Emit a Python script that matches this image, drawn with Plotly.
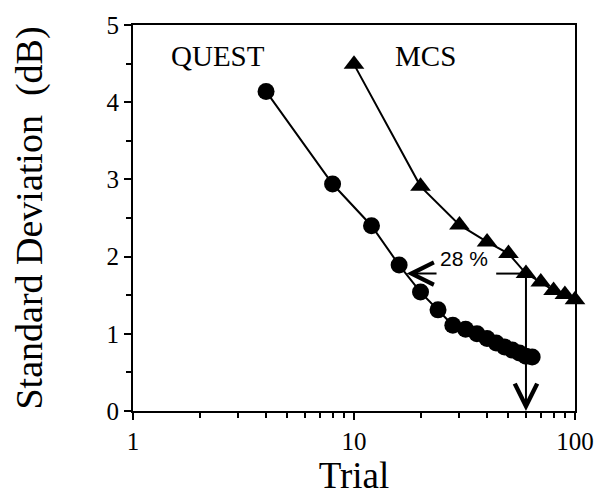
import numpy as np
import plotly.graph_objects as go

quest_trial = [4, 8, 12, 16, 20, 24, 28, 32, 36, 40, 44, 48, 52, 56, 60, 64]
quest_sd = [4.14, 2.94, 2.40, 1.89, 1.54, 1.31, 1.11, 1.06, 1.00, 0.94, 0.88, 0.83, 0.79, 0.75, 0.71, 0.70]
mcs_trial = [10, 20, 30, 40, 50, 60, 70, 80, 90, 100]
mcs_sd = [4.49, 2.91, 2.41, 2.19, 2.04, 1.78, 1.67, 1.56, 1.51, 1.44]

ref_trial = 60
ref_sd = 1.78
quest_equal_trial = 17.3
label_text = "28 %"

serif = "Liberation Serif, Times New Roman, serif"

fig = go.Figure()
fig.add_trace(go.Scatter(x=quest_trial, y=quest_sd, mode="lines+markers",
                         line=dict(color="black", width=2),
                         marker=dict(symbol="circle", size=17, color="black"),
                         cliponaxis=False, showlegend=False))
fig.add_trace(go.Scatter(x=mcs_trial, y=mcs_sd, mode="lines+markers",
                         line=dict(color="black", width=2),
                         marker=dict(symbol="triangle-up", size=18, color="black"),
                         cliponaxis=False, showlegend=False))
# horizontal segment from right portion (44 -> 60)
fig.add_trace(go.Scatter(x=[44, ref_trial], y=[ref_sd, ref_sd], mode="lines",
                         line=dict(color="black", width=2), showlegend=False))

fig.add_annotation(x=np.log10(quest_equal_trial), y=ref_sd, ax=np.log10(24), ay=ref_sd,
                   xref="x", yref="y", axref="x", ayref="y", text="",
                   showarrow=True, arrowhead=5, arrowsize=2.2, arrowwidth=2, arrowcolor="black")
fig.add_annotation(x=np.log10(ref_trial), y=0, ax=np.log10(ref_trial), ay=ref_sd,
                   xref="x", yref="y", axref="x", ayref="y", text="",
                   showarrow=True, arrowhead=5, arrowsize=2.2, arrowwidth=2, arrowcolor="black")
fig.add_annotation(x=np.log10(31.5), y=1.97, text=label_text, showarrow=False,
                   font=dict(family="Liberation Sans, Arial, sans-serif", size=21, color="black"))
fig.add_annotation(x=np.log10(2.43), y=4.6, text="QUEST", showarrow=False,
                   font=dict(family=serif, size=29, color="black"))
fig.add_annotation(x=np.log10(21), y=4.6, text="MCS", showarrow=False,
                   font=dict(family=serif, size=29, color="black"))

fig.update_xaxes(type="log", range=[0, 2], tickvals=[1, 10, 100], ticktext=["1", "10", "100"],
                 ticks="outside", ticklen=7, tickwidth=2, tickcolor="black",
                 minor=dict(tickvals=[2, 3, 4, 5, 6, 7, 8, 9, 20, 30, 40, 50, 60, 70, 80, 90],
                            ticks="outside", ticklen=5, tickwidth=2, tickcolor="black"),
                 showline=True, linecolor="black", linewidth=2, mirror=True,
                 showgrid=False, zeroline=False,
                 tickfont=dict(family=serif, size=25, color="black"),
                 title=dict(text="Trial", font=dict(family=serif, size=37, color="black"), standoff=4))
fig.update_yaxes(range=[0, 5], tickvals=[0, 1, 2, 3, 4, 5],
                 ticks="outside", ticklen=7, tickwidth=2, tickcolor="black",
                 minor=dict(tickvals=[0.5, 1.5, 2.5, 3.5, 4.5], ticks="outside", ticklen=5,
                            tickwidth=2, tickcolor="black"),
                 showline=True, linecolor="black", linewidth=2, mirror=True,
                 showgrid=False, zeroline=False,
                 tickfont=dict(family=serif, size=25, color="black"),
                 title=dict(text="Standard Deviation\u00a0\u00a0(dB)",
                            font=dict(family=serif, size=38, color="black"), standoff=52))
fig.update_layout(width=607, height=502, margin=dict(l=133, r=32, t=17, b=91),
                  plot_bgcolor="white", paper_bgcolor="white")
fig.write_html("out.html")
